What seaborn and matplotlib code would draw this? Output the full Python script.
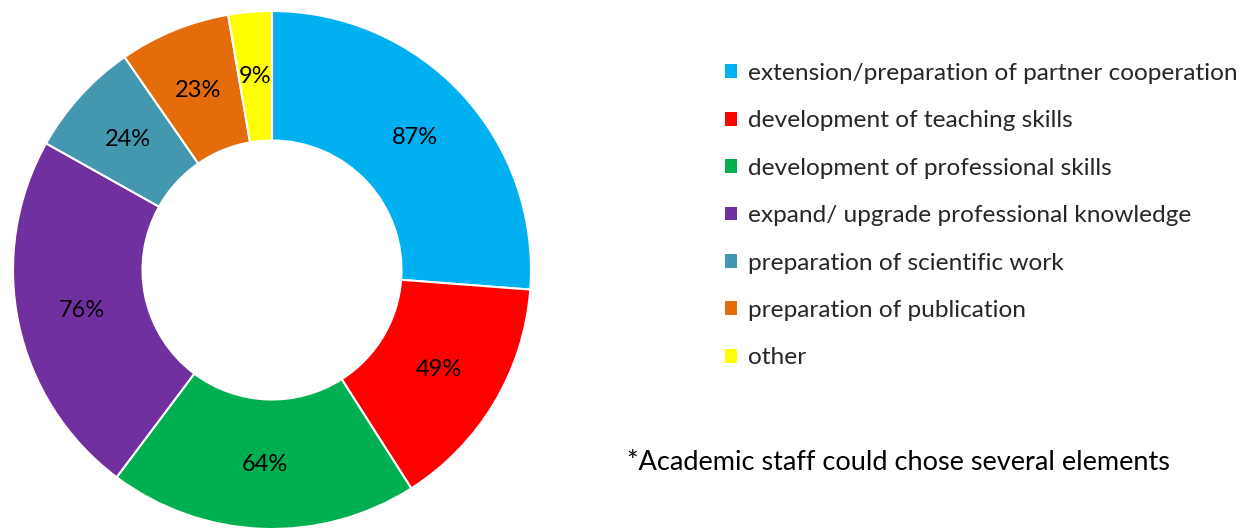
import matplotlib
matplotlib.use("Agg")
import matplotlib.pyplot as plt
from matplotlib.patches import Patch
import seaborn as sns

categories = [
    "extension/preparation of partner cooperation",
    "development of teaching skills",
    "development of professional skills",
    "expand/ upgrade professional knowledge",
    "preparation of scientific work",
    "preparation of publication",
    "other",
]
shares = [87, 49, 64, 76, 24, 23, 9]
colors = ["#00B0F0", "#FF0000", "#00B050", "#7030A0", "#4397AE", "#E46C0A", "#FFFF00"]
footnote = "*Academic staff could chose several elements"

sns.set_theme(style="white")
plt.rcParams["font.family"] = ["Lato", "DejaVu Sans"]

W, H = 1246, 529
fig = plt.figure(figsize=(W / 100, H / 100), dpi=100)
fig.patch.set_facecolor("white")

# donut occupies a square on the left
size = 518
ax = fig.add_axes([13 / W, 0 / H, size / W, size / H])
wedges, texts, autotexts = ax.pie(
    shares,
    colors=colors,
    startangle=90,
    counterclock=False,
    autopct=lambda p: "",
    pctdistance=0.75,
    radius=1.0,
    wedgeprops=dict(width=0.5, edgecolor="white", linewidth=1.5),
)
for w, t, v in zip(wedges, autotexts, shares):
    t.set_text(f"{v}%")
    t.set_fontsize(17)
    t.set_color("black")
ax.set_xlim(-1.0, 1.0)
ax.set_ylim(-1.0, 1.0)
ax.set_aspect("equal")
ax.axis("off")

handles = [Patch(facecolor=c, edgecolor="none") for c in colors]
fig.legend(
    handles,
    categories,
    loc="upper left",
    bbox_to_anchor=(725 / W, 1 - 63 / H),
    frameon=False,
    fontsize=17.6,
    handlelength=0.5,
    handleheight=0.5,
    handletextpad=0.45,
    labelspacing=1.08,
    borderaxespad=0,
    borderpad=0,
)

fig.text(627 / W, 1 - 463 / H, footnote, fontsize=19.5, va="center", ha="left", color="black")

fig.savefig("out.png", dpi=100, facecolor="white")
